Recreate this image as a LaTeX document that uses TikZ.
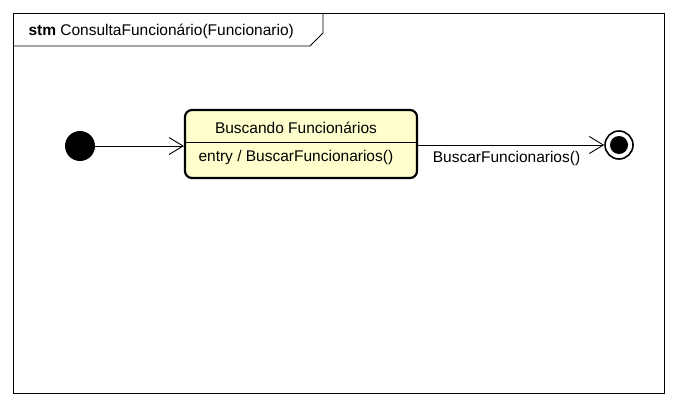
\documentclass[tikz,border=0pt]{standalone}
\usepackage{fontspec}
\setmainfont{Liberation Sans}
\usetikzlibrary{arrows.meta,positioning}

\begin{document}
\begin{tikzpicture}[x=1pt, y=-1pt,
                    every node/.style={font=\fontsize{15.5}{18}\selectfont},
                    initial node/.style={circle, fill=black, minimum size=30pt, inner sep=0pt},
                    final ring/.style={circle, draw, line width=1.6pt, minimum size=28pt, inner sep=0pt},
                    final dot/.style={circle, fill=black, minimum size=18pt, inner sep=0pt},
                    state node/.style={rectangle, draw, rounded corners=7pt, line width=2.2pt,
                                       fill={rgb,255:red,255;green,255;blue,206},
                                       minimum width=232pt, minimum height=68pt},
                    transition/.style={line width=0.9pt, -{Straight Barb[length=14pt,width=17pt,line width=0.9pt]}}]

      \useasboundingbox (0,0) rectangle (677,408);

      % frame
      \draw[line width=0.9pt] (13,13) rectangle (664,393);
      \draw[line width=0.9pt] (13,46) -- (310,46) -- (323,33) -- (323,13);
      \node[anchor=west] (title) at (25,31) {\textbf{stm} ConsultaFuncionário(Funcionario)};

      % states
      \node[initial node] (inicio) at (80,146) {};
      \node[state node] (busca) at (301,144) {};
      \node[final ring] (fim) at (619,145) {};
      \node[final dot] (fimdot) at (619,145) {};

      % compartments
      \node (buscanome) at (296,128) {Buscando Funcionários};
      \node[anchor=west] (buscaentry) at (195,157) {entry / BuscarFuncionarios()};
      \coordinate (divL) at (186,142);
      \coordinate (divR) at (416,142);
      \draw[line width=0.9pt] (divL) -- (divR);

      % transitions
      \draw[transition] (inicio) -- (busca.west |- inicio);
      \draw[transition] (busca.east |- fim) -- (fim)
            node[pos=0, anchor=north west, xshift=11pt, yshift=-2pt] (evento) {BuscarFuncionarios()};

    \end{tikzpicture}
\end{document}
